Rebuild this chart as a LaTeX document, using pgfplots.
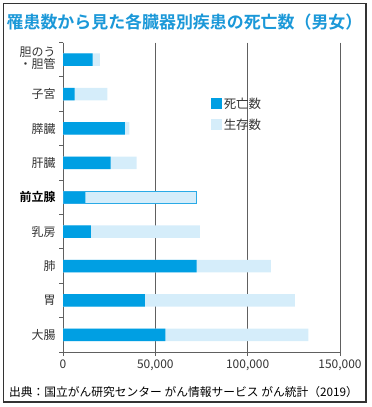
\documentclass[border=0pt]{standalone}
\usepackage{fontspec}
\usepackage{pgfplots}
\pgfplotsset{compat=1.18}
\setmainfont{Noto Sans CJK JP}[BoldFont={Noto Sans CJK JP Bold}]
\definecolor{darkb}{HTML}{009FE3}
\definecolor{lightb}{HTML}{D5EDFA}
\definecolor{outl}{HTML}{2AAAE6}
\definecolor{titleb}{HTML}{1B98D8}
\definecolor{txt}{HTML}{333333}
\definecolor{gridc}{HTML}{606060}
\begin{document}
\begin{tikzpicture}
\useasboundingbox (0,0) rectangle (372bp,407bp);
\draw[line width=1.4bp, color=txt] (3.5bp,5bp) rectangle (366bp,403.5bp);
\node[font=\fontsize{17}{20}\selectfont\bfseries, text=titleb] at (184.5bp,385bp) {罹患数から見た各臓器別疾患の死亡数（男女）};
\node[font=\fontsize{11.8}{14}\selectfont, text=black] at (183.5bp,15bp) {出典：国立がん研究センター がん情報サービス がん統計（2019）};
\begin{axis}[
  at={(63bp,55bp)}, anchor=south west,
  scale only axis, width=277bp, height=309.5bp,
  xbar, bar shift=0pt, bar width=12.5bp,
  xmin=0, xmax=150000, ymin=-0.5, ymax=8.5, y dir=reverse,
  enlargelimits=false,
  axis x line*=bottom, axis y line*=left,
  axis line style={color=gridc, line width=0.8bp},
  xtick={0,50000,100000,150000},
  xticklabels={0,{50,000},{100,000},{150,000}},
  scaled x ticks=false,
  xticklabel style={font=\fontsize{12}{14}\selectfont, text=txt},
  xmajorgrids,
  grid style={color=gridc, line width=0.8bp},
  tick align=outside,
  major tick length=4bp,
  minor tick length=3.5bp,
  x tick style={color=gridc, line width=0.8bp},
  ytick={0,1,2,3,4,5,6,7,8},
  yticklabels={{\begin{tabular}{@{}r@{}}胆のう\\[-2bp]・胆管\end{tabular}},子宮,膵臓,肝臓,{\bfseries\color{black}前立腺},乳房,肺,胃,大腸},
  yticklabel style={font=\fontsize{12}{14.5}\selectfont, text=txt},
  minor ytick={-0.5,0.5,1.5,2.5,3.5,4.5,5.5,6.5,7.5,8.5},
  major y tick style={draw=none},
  minor y tick style={color=gridc, line width=0.8bp},
  legend style={at={(0.522,0.835)}, anchor=north west, draw=none, fill=none,
    font=\fontsize{12.5}{14}\selectfont, text=txt, row sep=5bp},
  legend cell align=left,
  legend image code/.code={\fill[#1] (0bp,-5.5bp) rectangle (11bp,5.5bp);},
  reverse legend,
]
% light: incidence total (death + survivors)
\addplot[fill=lightb, draw=none] coordinates {
  (20000,0) (24000,1) (35900,2) (39900,3) (72300,4) (74100,5) (112500,6) (125500,7) (132900,8)};
\addlegendentry{生存数}
% dark: deaths
\addplot[fill=darkb, draw=none] coordinates {
  (16100,0) (6300,1) (33500,2) (25800,3) (12100,4) (15100,5) (72300,6) (44400,7) (55500,8)};
\addlegendentry{死亡数}
% highlight outline for prostate
\addplot[fill=none, draw=outl, line width=1bp, forget plot] coordinates {(72300,4)};
\end{axis}
\end{tikzpicture}
\end{document}
